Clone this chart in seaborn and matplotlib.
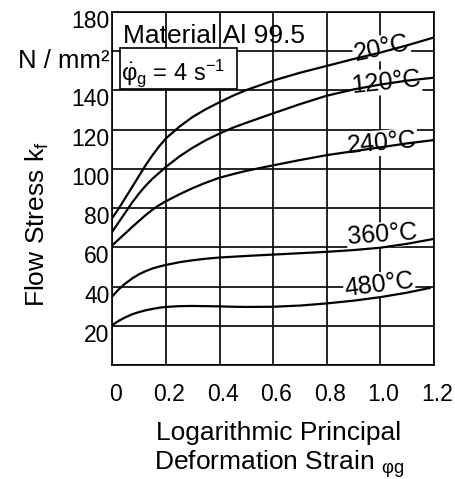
import numpy as np
import pandas as pd
import matplotlib
matplotlib.use("Agg")
import matplotlib.pyplot as plt
import matplotlib.transforms as mtransforms
from matplotlib.patches import Rectangle
import seaborn as sns

# ---------------- data ----------------
strain = [0, 0.025, 0.05, 0.075, 0.1, 0.125, 0.15, 0.175, 0.2, 0.25, 0.3, 0.35,
          0.4, 0.45, 0.5, 0.6, 0.7, 0.8, 0.9, 1.0, 1.1, 1.2]
strain_480 = [0, 0.025, 0.05, 0.075, 0.1, 0.125, 0.15, 0.175, 0.2, 0.25, 0.3, 0.35,
              0.4, 0.45, 0.5, 0.6, 0.7, 0.8, 0.9, 1.0, 1.1, 1.185]

stress_20 = [75, 80, 85.5, 91, 96.5, 102, 107, 111.5, 115.5, 121.5, 126.5, 130.5,
             134, 137.3, 140.2, 145, 149, 152.5, 156, 159.3, 163, 167]
stress_120 = [68, 73, 78, 83, 87.5, 91.5, 95, 98, 101, 106.3, 110.8, 114.7,
              118, 121, 123.5, 128.3, 133, 137.3, 140.5, 143, 145, 146.5]
stress_240 = [61, 64.2, 67.3, 70.5, 73.5, 76.5, 79.2, 81.5, 83.5, 87, 90.2, 93,
              95.5, 97.3, 99, 101.8, 104.5, 107, 109, 111, 113, 114.7]
stress_360 = [35, 38.7, 41.7, 44.2, 46.3, 47.9, 49.2, 50.2, 51, 52.4, 53.4, 54.2,
              54.8, 55.2, 55.6, 56.3, 57, 57.7, 58.6, 59.8, 61.8, 64.3]
stress_480 = [20.4, 22.6, 24.4, 25.9, 27, 27.9, 28.6, 29.2, 29.6, 30, 30.1, 30,
              29.9, 29.7, 29.6, 29.7, 30.3, 31.4, 32.8, 34.6, 36.9, 39.3]

temps = ["20°C", "120°C", "240°C", "360°C", "480°C"]

x_ticks = [0, 0.2, 0.4, 0.6, 0.8, 1.0, 1.2]
x_ticklabels = ["0", "0.2", "0.4", "0.6", "0.8", "1.0", "1.2"]
y_ticks = [0, 20, 40, 60, 80, 100, 120, 140, 160, 180]
y_ticklabels = ["", "20", "40", "60", "80", "100", "120", "140", "N / mm²", "180"]

# ---------------- build table ----------------
series = [
    (temps[0], strain, stress_20),
    (temps[1], strain, stress_120),
    (temps[2], strain, stress_240),
    (temps[3], strain, stress_360),
    (temps[4], strain_480, stress_480),
]
rows = []
for t, xs, ys in series:
    for x, y in zip(xs, ys):
        rows.append({"temp": t, "strain": x, "stress": y})
df = pd.DataFrame(rows)

# ---------------- style ----------------
sns.set_theme(style="white")
plt.rcParams["font.family"] = ["Liberation Sans", "DejaVu Sans"]
plt.rcParams["mathtext.fontset"] = "custom"
plt.rcParams["mathtext.rm"] = "Liberation Sans"
plt.rcParams["mathtext.it"] = "Liberation Sans:italic"
plt.rcParams["mathtext.bf"] = "Liberation Sans:bold"
plt.rcParams["lines.solid_joinstyle"] = "round"

fig = plt.figure(figsize=(4.55, 4.79), dpi=100)
ax = fig.add_axes([0.2468, 0.238, 0.7070, 0.737])

sns.lineplot(data=df, x="strain", y="stress", hue="temp", hue_order=temps,
             palette=["black"] * 5, legend=False, ax=ax, sort=False,
             estimator=None, lw=1.6, zorder=3)

ax.set_xlim(0, 1.2)
ax.set_ylim(0, 180)
ax.set_xticks(x_ticks)
ax.set_xticklabels(x_ticklabels, fontsize=16.5)
ax.set_yticks(y_ticks)
ax.set_yticklabels(y_ticklabels, fontsize=16.5)
for lab in ax.get_yticklabels():
    if lab.get_text().startswith("N"):
        lab.set_fontsize(18.5)

ax.tick_params(axis="both", length=0, colors="black")
ax.tick_params(axis="x", pad=13)
ax.tick_params(axis="y", pad=2)

# shift y tick labels slightly downward, x tick labels slightly right
off_y = mtransforms.ScaledTranslation(0, -7 / 100, fig.dpi_scale_trans)
for lab in ax.get_yticklabels():
    lab.set_transform(lab.get_transform() + off_y)
off_x = mtransforms.ScaledTranslation(3 / 100, 0, fig.dpi_scale_trans)
for lab in ax.get_xticklabels():
    lab.set_transform(lab.get_transform() + off_x)

ax.grid(True, color="black", lw=1.2)
ax.set_axisbelow(True)
for s in ax.spines.values():
    s.set_color("black")
    s.set_linewidth(1.2)
    s.set_visible(True)

# axis labels
ax.set_ylabel("Flow Stress k$\\mathregular{_f}$", fontsize=19, color="black")
ax.yaxis.set_label_coords(-0.19, 0.40)
ax.set_xlabel("Logarithmic Principal\nDeformation Strain $\\mathregular{_{φg}}$",
              fontsize=19, color="black", linespacing=1.15)
ax.xaxis.label.set_va("center")
ax.xaxis.set_label_coords(0.518, -0.243)

# curve labels
label_pos = {
    "20°C": (1.003, 161.6, 12),
    "120°C": (1.02, 144.3, 6),
    "240°C": (1.007, 113.2, 5),
    "360°C": (1.007, 66.3, 4),
    "480°C": (0.995, 40.8, 7),
}
for t in temps:
    x, y, rot = label_pos[t]
    ax.text(x, y, t, fontsize=18, ha="center", va="center", rotation=rot,
            rotation_mode="anchor", color="black", zorder=2,
            bbox=dict(facecolor="white", edgecolor="none", pad=0.5))

# material annotation
ax.text(0.033, 0.912, "Material Al 99.5", transform=ax.transAxes,
        fontsize=19, ha="left", va="baseline", color="black", zorder=2)
ax.add_patch(Rectangle((0.024, 0.782), 0.364, 0.116, transform=ax.transAxes,
                       facecolor="white", edgecolor="black", lw=1.2, zorder=2.5))
ax.text(0.028, 0.807,
        "$\\mathregular{\\dot{φ}_g}$ = 4 s$\\mathregular{^{-1}}$",
        transform=ax.transAxes, fontsize=17, ha="left", va="baseline",
        color="black", zorder=2.6)

fig.savefig("out.png", dpi=100, facecolor="white")
